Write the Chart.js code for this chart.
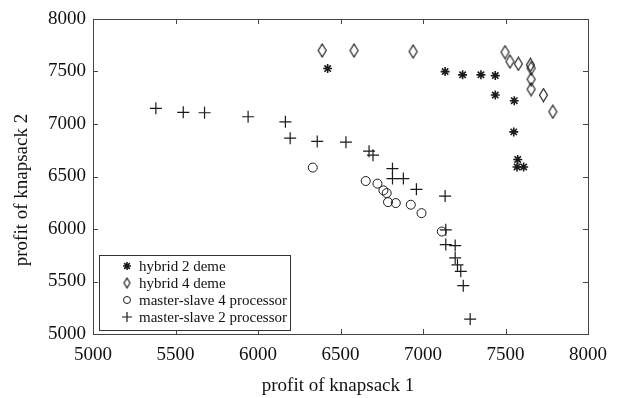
<!DOCTYPE html>
<html><head><meta charset="utf-8">
<script src="https://cdn.jsdelivr.net/npm/chart.js@4.4.1/dist/chart.umd.min.js"></script>
<style>html,body{margin:0;padding:0;background:#fff}#wrap{width:617px;height:398px}</style>
</head><body><div id="wrap"><canvas id="c" width="617" height="398"></canvas></div>
<script>
const seriesLabels = ["hybrid 2 deme", "hybrid 4 deme", "master-slave 4 processor", "master-slave 2 processor"];
const hybrid2X = [6422, 7134, 7240, 7351, 7438, 7438, 7553, 7550, 7574, 7570, 7610];
const hybrid2Y = [7528, 7499, 7468, 7468, 7461, 7276, 7222, 6925, 6662, 6591, 6591];
const hybrid4X = [6389, 6582, 6940, 7497, 7527, 7578, 7651, 7655, 7655, 7655, 7730, 7787];
const hybrid4Y = [7700, 7700, 7690, 7684, 7595, 7573, 7563, 7532, 7426, 7331, 7276, 7117];
const ms4X = [6332, 6653, 6724, 6760, 6780, 6788, 6835, 6926, 6991, 7114];
const ms4Y = [6585, 6457, 6432, 6368, 6342, 6256, 6247, 6231, 6151, 5976];
const ms2X = [5381, 5547, 5676, 5940, 6166, 6195, 6359, 6533, 6673, 6697, 6815, 6815, 6881, 6960, 7134, 7138, 7138, 7195, 7195, 7209, 7229, 7244, 7286];
const ms2Y = [7149, 7111, 7107, 7069, 7021, 6865, 6834, 6827, 6741, 6703, 6575, 6480, 6480, 6378, 6314, 5992, 5852, 5842, 5725, 5658, 5597, 5460, 5142];
const xTicks = [5000, 5500, 6000, 6500, 7000, 7500, 8000];
const yTicks = [5000, 5500, 6000, 6500, 7000, 7500, 8000];
const xTitle = "profit of knapsack 1";
const yTitle = "profit of knapsack 2";

const FONT = "'Liberation Serif', 'Times New Roman', serif";
const INK = "#1a1a1a";

function diamondCanvas(w, h) {
  const c = document.createElement('canvas');
  c.width = w; c.height = h;
  const g = c.getContext('2d');
  g.strokeStyle = '#111'; g.lineWidth = 1.1;
  g.beginPath();
  g.moveTo(w / 2, 1); g.lineTo(w - 1.5, h / 2); g.lineTo(w / 2, h - 1); g.lineTo(1.5, h / 2); g.closePath();
  g.stroke();
  return c;
}
const dia = diamondCanvas(11, 15);
const diaSmall = diamondCanvas(9, 12);

function pts(xs, ys) { return xs.map((x, i) => ({x: x, y: ys[i]})); }

const datasets = [
  {label: seriesLabels[0], data: pts(hybrid2X, hybrid2Y), pointStyle: 'star', radius: 4.5, borderWidth: 1.6, borderColor: INK, backgroundColor: INK},
  {label: seriesLabels[1], data: pts(hybrid4X, hybrid4Y), pointStyle: dia, radius: 6, borderColor: INK, backgroundColor: 'transparent'},
  {label: seriesLabels[2], data: pts(ms4X, ms4Y), pointStyle: 'circle', radius: 4.5, borderWidth: 1, borderColor: INK, backgroundColor: 'transparent'},
  {label: seriesLabels[3], data: pts(ms2X, ms2Y), pointStyle: 'cross', radius: 6, borderWidth: 1.2, borderColor: INK, backgroundColor: INK}
];

const framePlugin = {
  id: 'frame',
  afterDatasetsDraw(chart) {
    const {ctx, chartArea: a, scales} = chart;
    ctx.save();
    ctx.strokeStyle = '#444'; ctx.lineWidth = 1;
    ctx.strokeRect(a.left + 0.5, a.top + 0.5, a.right - a.left, a.bottom - a.top);
    ctx.beginPath();
    const L = 5;
    xTicks.forEach(v => {
      const p = Math.round(scales.x.getPixelForValue(v)) + 0.5;
      ctx.moveTo(p, a.bottom); ctx.lineTo(p, a.bottom - L);
      ctx.moveTo(p, a.top); ctx.lineTo(p, a.top + L);
    });
    yTicks.forEach(v => {
      const p = Math.round(scales.y.getPixelForValue(v)) + 0.5;
      ctx.moveTo(a.left, p); ctx.lineTo(a.left + L, p);
      ctx.moveTo(a.right, p); ctx.lineTo(a.right - L, p);
    });
    ctx.stroke();
    // axis titles
    ctx.fillStyle = '#111';
    ctx.font = "19px " + FONT;
    ctx.textAlign = 'center';
    ctx.textBaseline = 'alphabetic';
    ctx.fillText(xTitle, 338, 391);
    ctx.save();
    ctx.translate(27, 190);
    ctx.rotate(-Math.PI / 2);
    ctx.fillText(yTitle, 0, 0);
    ctx.restore();
    // legend
    const bx = 99.5, by = 255.5, bw = 191, bh = 75;
    ctx.fillStyle = '#fff';
    ctx.fillRect(bx, by, bw, bh);
    ctx.strokeStyle = '#333';
    ctx.strokeRect(bx, by, bw, bh);
    ctx.font = "15px " + FONT;
    ctx.textBaseline = 'middle';
    ctx.textAlign = 'left';
    const rows = [266, 283, 300, 317];
    datasets.forEach((d, i) => {
      const style = d.pointStyle === dia ? diaSmall : d.pointStyle;
      const opts = {pointStyle: style, radius: d.pointStyle === 'cross' ? 5 : (d.pointStyle === 'circle' ? 3.5 : 4), borderWidth: d.borderWidth || 1, rotation: 0};
      ctx.strokeStyle = INK; ctx.fillStyle = d.backgroundColor; ctx.lineWidth = opts.borderWidth;
      Chart.helpers.drawPoint(ctx, opts, 127, rows[i]);
      ctx.fillStyle = '#111';
      ctx.fillText(d.label, 139, rows[i] + 1);
    });
    ctx.restore();
  }
};

new Chart(document.getElementById('c'), {
  type: 'scatter',
  data: {datasets: datasets},
  options: {
    responsive: false,
    animation: false,
    devicePixelRatio: 1,
    layout: {padding: {top: 19, right: 29, left: 0, bottom: 0}},
    plugins: {legend: {display: false}, tooltip: {enabled: false}},
    scales: {
      x: {
        type: 'linear', min: 5000, max: 8000,
        afterBuildTicks: s => { s.ticks = xTicks.map(v => ({value: v})); },
        afterFit: s => { s.height = 64; },
        grid: {display: false, drawTicks: false},
        border: {display: false},
        ticks: {color: '#111', padding: 10, maxRotation: 0, font: {family: FONT, size: 19}, callback: v => String(v)},
        title: {display: false}
      },
      y: {
        type: 'linear', min: 5000, max: 8000,
        afterBuildTicks: s => { s.ticks = yTicks.map(v => ({value: v})); },
        afterFit: s => { s.width = 93; },
        grid: {display: false, drawTicks: false},
        border: {display: false},
        ticks: {color: '#111', padding: 7, font: {family: FONT, size: 19}, callback: v => String(v)},
        title: {display: false}
      }
    }
  },
  plugins: [framePlugin]
});
</script>
</body></html>
